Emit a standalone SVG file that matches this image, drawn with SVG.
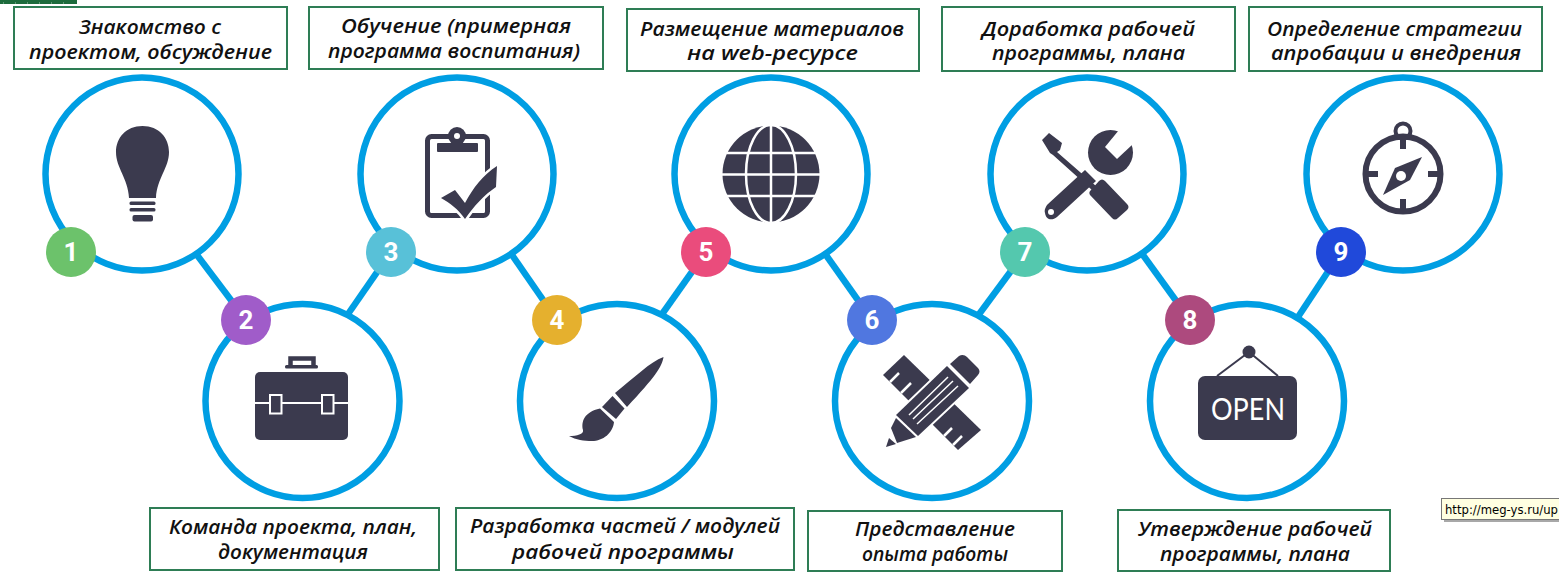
<svg xmlns="http://www.w3.org/2000/svg" width="1559" height="578" viewBox="0 0 1559 578">
<style>
.ring{fill:#fff;stroke:#009ee3;stroke-width:6.5}
.link{stroke:#009ee3;stroke-width:6.5;fill:none}
.box{fill:#fff;stroke:#2e7d55;stroke-width:2}
.lab{font-family:"Open Sans","Noto Sans",sans-serif;font-style:italic;font-weight:600;font-size:20px;fill:#111}
.num{font-family:Roboto,"Liberation Sans",sans-serif;font-weight:700;font-size:26px;fill:#fff;text-anchor:middle}
.ic{fill:#3b3a4e}
.icl{fill:none;stroke:#3b3a4e}
.cut{fill:none;stroke:#fff}
.halo{fill:#3b3a4e;stroke:#fff;paint-order:stroke}
</style>
<rect width="1559" height="578" fill="#fff"/>
<g id="corner-mark"><rect x="0" y="0" width="77" height="4" fill="#1c6b3c"/><path d="M3 3H75" stroke="#9cc7ab" stroke-width="1" stroke-dasharray="1 11"/></g>
<g id="connectors">
<path class="link" d="M197 255L246 320"/>
<path class="link" d="M346 317L391 252"/>
<path class="link" d="M512 255L557 320"/>
<path class="link" d="M660 317L706 252"/>
<path class="link" d="M826 255L872 320"/>
<path class="link" d="M977 317L1025 252"/>
<path class="link" d="M1143 255L1190 320"/>
<path class="link" d="M1298 317L1341 252"/>
</g>
<g id="node1"><circle class="ring" cx="142" cy="174" r="96.5"/>
<path class="ic" d="M142.500 126C126 126 116 138 116 152C116 168 128 178 129 198H156C157 178 169 168 169 152C169 138 159 126 142.500 126Z"/>
<rect class="ic" x="129.500" y="201.500" width="26" height="3.500" rx="1.500"/><rect class="ic" x="129.500" y="208" width="26" height="3.500" rx="1.500"/><rect class="ic" x="132.500" y="215" width="20.500" height="6.500" rx="2"/>
<circle cx="71" cy="252" r="25" fill="#6cc26b"/><text class="num" x="71" y="261">1</text></g>
<g id="node2"><circle class="ring" cx="302.500" cy="401" r="97"/>
<path class="icl" stroke-width="4.500" d="M290.500 367V358.500H313.500V367"/><rect class="ic" x="285" y="365" width="33" height="3.500" rx="1.500"/>
<rect class="ic" x="255" y="372" width="93" height="68" rx="5"/><path class="cut" stroke-width="2" d="M255 403H348"/>
<rect x="270" y="395" width="11.500" height="18.500" fill="#3b3a4e" stroke="#fff" stroke-width="2"/><rect x="322" y="395" width="11.500" height="18.500" fill="#3b3a4e" stroke="#fff" stroke-width="2"/>
<circle cx="246" cy="320" r="25" fill="#a05cc9"/><text class="num" x="246" y="329">2</text></g>
<g id="node3"><circle class="ring" cx="457" cy="174" r="96.500"/>
<rect class="icl" stroke-width="5" x="427.500" y="136.500" width="60" height="79" rx="4"/>
<circle class="ic" cx="457" cy="136" r="9"/><rect class="ic" x="437" y="143" width="41" height="9" rx="1"/><circle cx="457" cy="136" r="3" fill="#fff"/>
<path class="halo" stroke-width="5" d="M441 198L455 190L465 203C473 188 483 175 497 166L496 187C484 195 474 206 465 219C458 209 450 203 441 198Z"/>
<circle cx="391" cy="252" r="25" fill="#58c1d8"/><text class="num" x="391" y="261">3</text></g>
<g id="node4"><circle class="ring" cx="617" cy="401" r="97"/>
<path class="ic" d="M663.500 357C662 367 655 377 627 407L615 393C635 377 650 362 663.500 357Z"/>
<path class="ic" d="M612.500 396L624.500 408.500L616 419L602 407Z"/>
<path class="ic" d="M600 408.500L614 422C613 433 603 441 592 441C584 441 576 440 569 436C577 436 584 434 583 430C581 422 584 412 600 408.500Z"/>
<circle cx="557" cy="320" r="25" fill="#e5b02e"/><text class="num" x="557" y="329">4</text></g>
<g id="node5"><circle class="ring" cx="771" cy="174" r="96.500"/>
<circle class="ic" cx="771" cy="174" r="48.500"/>
<g class="cut" stroke-width="2.500"><ellipse cx="771" cy="174" rx="25" ry="49"/><path d="M771 125V223M722 174.500H820M727 153H815M727 196H815"/></g>
<circle cx="706" cy="252" r="25" fill="#ea4c7c"/><text class="num" x="706" y="261">5</text></g>
<g id="node6"><circle class="ring" cx="932" cy="401" r="97"/>
<path class="ic" d="M904 355L883 375L958 450L981 430Z"/>
<path class="cut" stroke-width="2.500" d="M890 382L899 373M901 393L911 383M944 436L952 428M953 445L962 436"/>
<path class="halo" stroke-width="4" d="M947 366L969 388L918 436L896 415Z"/>
<path class="cut" stroke-width="1.500" d="M909 415L948 377M913 419L953 381M917 424L958 386"/>
<path class="ic" d="M950 364L959 356C962 354 965 355 967 357L978 368C980 370 980 373 978 375L970 384Z"/>
<path class="ic" d="M896 418L916 437L897 443L891 428Z"/><path class="ic" d="M889 438L896 444L886 447Z"/>
<circle cx="872" cy="320" r="25" fill="#5077e0"/><text class="num" x="872" y="329">6</text></g>
<g id="node7"><circle class="ring" cx="1087" cy="174" r="96.500"/>
<path class="ic" d="M1042 140L1049 133L1062 143L1060 150L1057 152L1096 186L1092 190L1053 155L1050 153Z"/>
<path class="ic" d="M1090 195C1089 193 1089 192 1091 190L1099 181C1101 179 1103 179 1105 181L1127 204C1129 206 1129 208 1127 210L1118 218C1116 220 1114 220 1112 218Z"/>
<circle class="ic" cx="1110.500" cy="152.500" r="22.500"/>
<path fill="#fff" d="M1119 130L1105 147L1117 159L1133 144L1136 125Z"/>
<path class="ic" d="M1085 170L1096 181L1057 217C1052 221 1046 220 1045 213C1044 210 1046 206 1048 204Z"/>
<circle cx="1051" cy="212" r="3" fill="#fff"/>
<circle cx="1025" cy="252" r="25" fill="#54c8ae"/><text class="num" x="1025" y="261">7</text></g>
<g id="node8"><circle class="ring" cx="1247" cy="401" r="97"/>
<path class="icl" stroke-width="2" d="M1217 376L1249 352L1278 376"/><circle class="ic" cx="1249" cy="352" r="6.500"/>
<rect class="ic" x="1198" y="376" width="99" height="64" rx="7"/>
<text x="1211" y="420" textLength="74" lengthAdjust="spacingAndGlyphs" font-family="Lato,'Liberation Sans',sans-serif" font-size="30" fill="#fff">OPEN</text>
<circle cx="1190" cy="320" r="25" fill="#ad4a7e"/><text class="num" x="1190" y="329">8</text></g>
<g id="node9"><circle class="ring" cx="1403" cy="174" r="96.500"/>
<circle class="icl" stroke-width="6" cx="1403" cy="174" r="37.500"/><circle class="icl" stroke-width="4" cx="1403" cy="131" r="7.500"/>
<path class="icl" stroke-width="6" d="M1403 137V149M1403 199V212M1365 174H1378M1428 174H1441"/>
<path class="ic" d="M1422 157L1410 180L1383 195L1395 168Z"/><circle cx="1401" cy="176" r="5" fill="#fff"/>
<circle cx="1341" cy="252" r="25" fill="#2049da"/><text class="num" x="1341" y="261">9</text></g>
<g id="label1"><rect class="box" x="14" y="7" width="273" height="62"/><text class="lab" x="79" y="34" textLength="142" lengthAdjust="spacingAndGlyphs">Знакомство с</text><text class="lab" x="29" y="59" textLength="243" lengthAdjust="spacingAndGlyphs">проектом, обсуждение</text></g>
<g id="label2"><rect class="box" x="150" y="508" width="289" height="62"/><text class="lab" x="169" y="534" textLength="248" lengthAdjust="spacingAndGlyphs">Команда проекта, план,</text><text class="lab" x="218" y="559" textLength="150" lengthAdjust="spacingAndGlyphs">документация</text></g>
<g id="label3"><rect class="box" x="309" y="7" width="294" height="62"/><text class="lab" x="341" y="33" textLength="230" lengthAdjust="spacingAndGlyphs">Обучение (примерная</text><text class="lab" x="328" y="58" textLength="252" lengthAdjust="spacingAndGlyphs">программа воспитания)</text></g>
<g id="label4"><rect class="box" x="456" y="508" width="338" height="62"/><text class="lab" x="470" y="533" textLength="310" lengthAdjust="spacingAndGlyphs">Разработка частей / модулей</text><text class="lab" x="512" y="559" textLength="222" lengthAdjust="spacingAndGlyphs">рабочей программы</text></g>
<g id="label5"><rect class="box" x="627" y="9" width="292" height="62"/><text class="lab" x="640" y="36" textLength="264" lengthAdjust="spacingAndGlyphs">Размещение материалов</text><text class="lab" x="687" y="60" textLength="171" lengthAdjust="spacingAndGlyphs">на web-ресурсе</text></g>
<g id="label6"><rect class="box" x="808" y="511" width="254" height="60"/><text class="lab" x="855" y="536" textLength="160" lengthAdjust="spacingAndGlyphs">Представление</text><text class="lab" x="862" y="561" textLength="146" lengthAdjust="spacingAndGlyphs">опыта работы</text></g>
<g id="label7"><rect class="box" x="942" y="7" width="293" height="64"/><text class="lab" x="982" y="36" textLength="213" lengthAdjust="spacingAndGlyphs">Доработка рабочей</text><text class="lab" x="992" y="60" textLength="193" lengthAdjust="spacingAndGlyphs">программы, плана</text></g>
<g id="label8"><rect class="box" x="1118" y="510" width="272" height="61"/><text class="lab" x="1138" y="536" textLength="234" lengthAdjust="spacingAndGlyphs">Утверждение рабочей</text><text class="lab" x="1160" y="561" textLength="190" lengthAdjust="spacingAndGlyphs">программы, плана</text></g>
<g id="label9"><rect class="box" x="1249" y="7" width="293" height="64"/><text class="lab" x="1267" y="36" textLength="255" lengthAdjust="spacingAndGlyphs">Определение стратегии</text><text class="lab" x="1271" y="60" textLength="250" lengthAdjust="spacingAndGlyphs">апробации и внедрения</text></g>
<g id="tooltip"><rect x="1444" y="501" width="115" height="21" fill="#a8a8a8"/><rect x="1441.500" y="498.500" width="118" height="21" fill="#ffffe1" stroke="#777"/><text x="1445" y="513.500" font-family="'DejaVu Sans',sans-serif" font-size="11.500" textLength="113" lengthAdjust="spacingAndGlyphs" fill="#000">http://meg-ys.ru/up</text></g>
</svg>
